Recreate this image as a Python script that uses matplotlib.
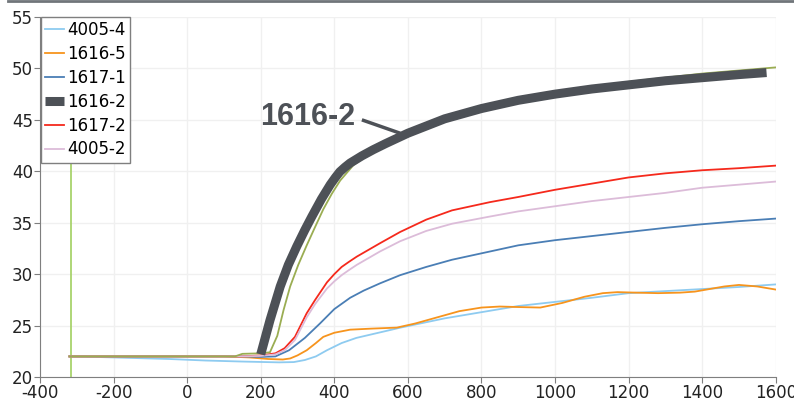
import matplotlib.pyplot as plt
from matplotlib.lines import Line2D

# Data
x_4005_4 = [-320, -250, -150, -50, 50, 150, 250, 290, 320, 350, 380, 420, 460, 520, 580, 700,
            800, 900, 1000, 1100, 1200, 1300, 1400, 1500, 1600]
y_4005_4 = [22.0, 21.95, 21.85, 21.75, 21.6, 21.5, 21.42, 21.45, 21.65, 22.0, 22.6, 23.3, 23.8,
            24.3, 24.8, 25.7, 26.3, 26.9, 27.3, 27.7, 28.15, 28.35, 28.55, 28.75, 29.0]

x_1616_5 = [-320, 100, 170, 220, 260, 280, 300, 325, 350, 370, 400, 443, 500, 570, 620, 680, 740,
            800, 850, 900, 960, 1020, 1080, 1130, 1170, 1220, 1280, 1340, 1380, 1420, 1460, 1500,
            1550, 1600]
y_1616_5 = [22.0, 22.0, 21.9, 21.75, 21.7, 21.8, 22.1, 22.6, 23.3, 23.9, 24.3, 24.6, 24.7, 24.8,
            25.2, 25.8, 26.4, 26.75, 26.85, 26.8, 26.75, 27.2, 27.8, 28.15, 28.25, 28.2, 28.15,
            28.2, 28.3, 28.55, 28.8, 28.95, 28.8, 28.5]

x_1617_1 = [-320, 150, 200, 240, 277, 320, 361, 400, 443, 480, 524, 579, 650, 720, 823, 900,
            1000, 1100, 1200, 1300, 1400, 1500, 1600]
y_1617_1 = [22.0, 22.0, 21.95, 22.0, 22.6, 23.8, 25.2, 26.6, 27.7, 28.4, 29.1, 29.9, 30.7, 31.4,
            32.2, 32.8, 33.3, 33.7, 34.1, 34.5, 34.85, 35.15, 35.4]

x_1617_2 = [-320, 150, 200, 240, 265, 293, 325, 348, 380, 400, 420, 440, 461, 524, 579, 650,
            720, 823, 900, 1000, 1100, 1200, 1300, 1400, 1500, 1600]
y_1617_2 = [22.0, 22.0, 22.1, 22.3, 22.8, 23.9, 26.2, 27.5, 29.2, 30.0, 30.7, 31.2, 31.7, 33.0,
            34.1, 35.3, 36.2, 37.0, 37.5, 38.2, 38.8, 39.4, 39.8, 40.1, 40.3, 40.55]

x_4005_2 = x_1617_2
y_4005_2 = [22.0, 22.0, 22.05, 22.2, 22.6, 23.6, 25.8, 27.1, 28.6, 29.3, 29.9, 30.4, 30.9, 32.2,
            33.2, 34.2, 34.9, 35.6, 36.1, 36.6, 37.1, 37.5, 37.9, 38.4, 38.7, 39.0]

x_olive = [-320, 130, 150, 200, 225, 245, 262, 280, 302, 325, 348, 370, 393, 416, 452, 500, 550,
           600, 700, 800, 900, 1000, 1100, 1200, 1300, 1400, 1500, 1600]
y_olive = [22.0, 22.0, 22.25, 22.3, 22.4, 24.0, 26.5, 28.8, 30.9, 32.8, 34.6, 36.3, 37.8, 39.1,
           40.6, 41.8, 42.8, 43.6, 45.2, 46.3, 47.1, 47.7, 48.2, 48.7, 49.1, 49.5, 49.8, 50.1]

x_1616_2 = [200, 225, 253, 275, 298, 320, 339, 365, 389, 403, 415, 429, 443, 475, 506, 540, 570,
            600, 650, 700, 800, 900, 1000, 1100, 1200, 1300, 1400, 1500, 1575]
y_1616_2 = [22.2, 25.5, 28.8, 30.9, 32.7, 34.3, 35.6, 37.3, 38.7, 39.4, 39.95, 40.4, 40.8, 41.5,
            42.1, 42.7, 43.2, 43.7, 44.4, 45.1, 46.1, 46.9, 47.5, 48.0, 48.4, 48.8, 49.1, 49.4,
            49.6]

marker_x = -315
label_pos = (328, 45.25)
pointer_x = [475, 579]
pointer_y = [45.0, 43.7]

plt.rcParams['font.family'] = ['DejaVu Sans']
plt.rcParams['axes.unicode_minus'] = False

fig = plt.figure(figsize=(7.94, 4.01), dpi=100)
ax = fig.add_axes([0.0504, 0.0599, 0.9266, 0.8977])

ax.axvline(marker_x, color='#a8d36c', lw=1.3, zorder=1)
ax.plot(x_4005_4, y_4005_4, color='#8ecbf0', lw=1.3, label='4005-4')
ax.plot(x_1616_5, y_1616_5, color='#f7941d', lw=1.3, label='1616-5')
ax.plot(x_1617_1, y_1617_1, color='#4a7eb5', lw=1.3, label='1617-1')
ax.plot(x_1617_2, y_1617_2, color='#f5291c', lw=1.3, label='1617-2')
ax.plot(x_4005_2, y_4005_2, color='#dcbcd9', lw=1.3, label='4005-2')
ax.plot(x_olive, y_olive, color='#9aad52', lw=1.3)
ax.plot(x_1616_2, y_1616_2, color='#4d5157', lw=6.5, solid_capstyle='butt',
        solid_joinstyle='round', label='1616-2')

# callout for the highlighted series
ax.text(*label_pos, '1616-2', ha='center', va='center', fontsize=22, fontweight='bold',
        family='Liberation Sans', color='#4d5157')
ax.plot(pointer_x, pointer_y, color='#4d5157', lw=2.5, solid_capstyle='butt')

ax.set_xlim(-400, 1600)
ax.set_ylim(20, 55)
ax.set_xticks(range(-400, 1601, 200))
ax.set_yticks(range(20, 56, 5))
ax.grid(True, color='#f0f0f0', lw=1)
ax.set_axisbelow(True)
for s in ['top', 'right']:
    ax.spines[s].set_visible(False)
for s in ['left', 'bottom']:
    ax.spines[s].set_color('#7f7f7f')
ax.tick_params(colors='#7f7f7f', labelcolor='#222222', labelsize=12, length=4, pad=1)

h, l = ax.get_legend_handles_labels()
order = ['4005-4', '1616-5', '1617-1', '1616-2', '1617-2', '4005-2']
hs = [h[l.index(k)] for k in order]
leg = ax.legend(hs, order, loc='upper left', bbox_to_anchor=(0.001, 1.0), fontsize=12,
                frameon=True, fancybox=False, framealpha=1, edgecolor='#7f7f7f',
                handlelength=1.15, handletextpad=0.2, borderpad=0.25, labelspacing=0.35,
                borderaxespad=0)
leg.get_frame().set_linewidth(1)
leg.set_zorder(5)

fig.add_artist(Line2D([0.01, 1.0], [0.997, 0.997], transform=fig.transFigure,
                      color='#70757a', lw=2))

fig.savefig('out.png', dpi=100)
